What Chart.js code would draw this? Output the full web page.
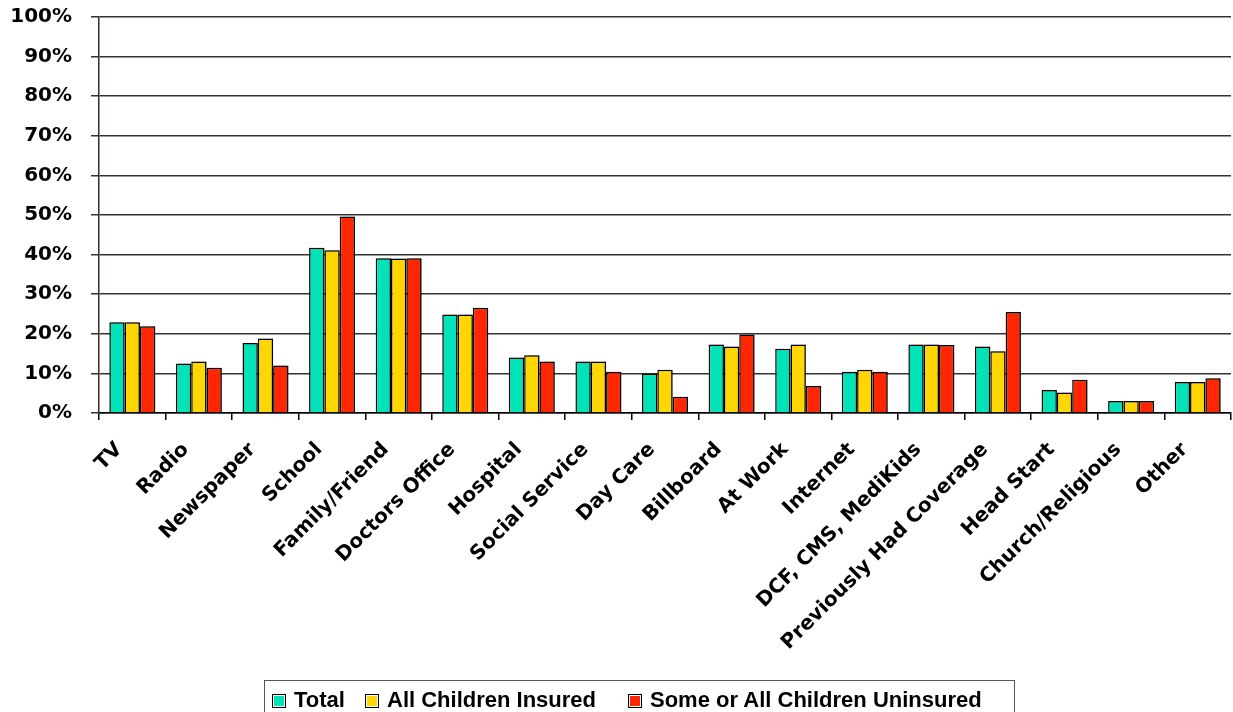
<!DOCTYPE html>
<html>
<head>
<meta charset="utf-8">
<script src="https://cdn.jsdelivr.net/npm/chart.js@4.4.1/dist/chart.umd.min.js"></script>
<style>
  html, body { margin: 0; padding: 0; background: #fff; overflow: hidden; }
  #wrap { width: 1233px; height: 712px; position: relative; }
  #legend { position: absolute; left: 264px; top: 680px; width: 751px; height: 40px;
            border: 1px solid #555; box-sizing: border-box; font: bold 22px 'Liberation Sans', Arial, sans-serif; color: #000; }
  #legend .item { position: absolute; top: 6px; white-space: nowrap; line-height: 26px; }
  #legend .box { display: inline-block; width: 12px; height: 12px; border: 1.5px solid #000; box-shadow: inset 0 0 0 1px #fff;
                 vertical-align: -1px; margin-right: 8px; }
</style>
</head>
<body>
<div id="wrap">
  <canvas id="chart" width="1233" height="712"></canvas>
  <div id="legend"></div>
</div>
<script>
// categories and values (percent)
const categories = ['TV', 'Radio', 'Newspaper', 'School', 'Family/Friend', 'Doctors Office', 'Hospital',
    'Social Service', 'Day Care', 'Billboard', 'At Work', 'Internet', 'DCF, CMS, MediKids',
    'Previously Had Coverage', 'Head Start', 'Church/Religious', 'Other'];
const totalValues     = [22.9, 12.5, 17.7, 41.7, 39.1, 24.9, 14.0, 13.0, 10.0, 17.3, 16.2, 10.4, 17.3, 16.8, 5.8, 3.0, 7.8];
const insuredValues   = [22.9, 13.0, 18.8, 41.1, 39.0, 24.9, 14.6, 13.0, 10.9, 16.8, 17.3, 10.9, 17.3, 15.6, 5.2, 3.0, 7.8];
const uninsuredValues = [21.9, 11.4, 12.0, 49.6, 39.1, 26.6, 13.0, 10.4, 4.1, 19.8, 6.8, 10.4, 17.2, 25.5, 8.4, 3.0, 8.8];
const seriesNames = ['Total', 'All Children Insured', 'Some or All Children Uninsured'];
const yTicks = [0, 10, 20, 30, 40, 50, 60, 70, 80, 90, 100];

const colors = ['#00E3B8', '#FFD600', '#FF2600'];
const legendLeft = [7, 100, 363];   // item offsets inside the legend frame

// legend as html, framed like the original
document.getElementById('legend').innerHTML = seriesNames.map((name, i) =>
    `<span class="item" style="left:${legendLeft[i]}px"><span class="box" style="background:${colors[i]}"></span>${name}</span>`
).join('');

const barShadow = {
    id: 'barShadow',
    beforeDatasetsDraw(chart) {
        const ctx = chart.ctx;
        ctx.save();
        ctx.shadowColor = 'rgba(0,0,0,0.3)';
        ctx.shadowOffsetX = 3;
        ctx.shadowOffsetY = 0;
        ctx.shadowBlur = 0;
    },
    afterDatasetsDraw(chart) {
        chart.ctx.restore();
    }
};

new Chart(document.getElementById('chart'), {
    type: 'bar',
    data: {
        labels: categories,
        datasets: [totalValues, insuredValues, uninsuredValues].map((vals, i) => ({
            label: seriesNames[i],
            data: vals,
            backgroundColor: colors[i],
            borderColor: '#000',
            borderWidth: 1.5,
            categoryPercentage: 0.69,
            barPercentage: 1.0
        }))
    },
    options: {
        responsive: false,
        animation: false,
        layout: { padding: { top: 0, right: 2, left: 4, bottom: 0 } },
        plugins: {
            tooltip: { enabled: false },
            legend: { display: false }
        },
        scales: {
            x: {
                grid: { offset: true, drawOnChartArea: false, color: '#000', lineWidth: 1.5, tickLength: 7 },
                border: { color: '#000', width: 1.5 },
                ticks: { color: '#000', font: { family: 'DejaVu Sans', size: 20, weight: 'bold' },
                         minRotation: 45, maxRotation: 45, padding: 18, labelOffset: -13 },
                afterFit(scale) { scale.height = 299; }
            },
            y: {
                min: 0,
                max: 100,
                afterBuildTicks(scale) { scale.ticks = yTicks.map(v => ({ value: v })); },
                grid: { color: '#333', lineWidth: 1.5, tickLength: 8 },
                border: { color: '#3a2a2a', width: 1.5 },
                ticks: { color: '#000', font: { family: 'DejaVu Sans', size: 20, weight: 'bold' }, padding: 19,
                         callback: v => v + '%' },
                afterFit(scale) {
                    scale.width = 95;
                    scale.paddingTop = 17;
                }
            }
        }
    },
    plugins: [barShadow]
});
</script>
</body>
</html>
